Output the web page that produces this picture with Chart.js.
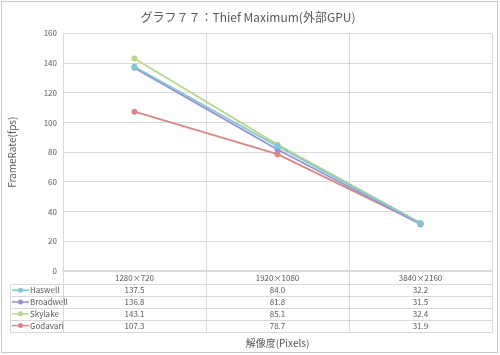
<!DOCTYPE html>
<html>
<head>
<meta charset="utf-8">
<script src="https://cdn.jsdelivr.net/npm/chart.js@4"></script>
<style>
  body { margin: 0; background: #fff; }
  #wrap { width: 500px; height: 355px; }
</style>
</head>
<body>
<div id="wrap"><canvas id="fpsChart"></canvas></div>
<script>
// データ
const resolutions = ['1280×720', '1920×1080', '3840×2160'];
const haswell = [137.5, 84.0, 32.2];
const broadwell = [136.8, 81.8, 31.5];
const skylake = [143.1, 85.1, 32.4];
const godavari = [107.3, 78.7, 31.9];
const seriesNames = ['Haswell', 'Broadwell', 'Skylake', 'Godavari'];
const seriesColors = ['#82c6da', '#9990d2', '#b8d78c', '#df8584'];

const FONT = "'Noto Sans CJK JP', 'Noto Sans', sans-serif";
const textColor = '#595959';
const gridColor = '#d9d9d9';

// データテーブル (Excel風) を描くプラグイン
const dataTable = {
    id: 'dataTable',
    afterDraw(chart) {
        const ctx = chart.ctx;
        const area = chart.chartArea;
        const x = chart.scales.x;
        const rowH = 11.8;
        const top = area.bottom + 1.5;
        const tableLeft = 10;
        const rows = [haswell, broadwell, skylake, godavari];
        const band = x.getPixelForValue(1) - x.getPixelForValue(0);

        ctx.save();
        ctx.strokeStyle = gridColor;
        ctx.lineWidth = 1;

        // 横線
        for (let r = 1; r <= 5; r++) {
            const y = Math.round(top + rowH * r) + 0.5;
            ctx.beginPath();
            ctx.moveTo(tableLeft, y);
            ctx.lineTo(area.right, y);
            ctx.stroke();
        }
        // 縦線
        const bottom = Math.round(top + rowH * 5) + 0.5;
        const edges = [area.left];
        for (let i = 0; i < resolutions.length; i++) {
            edges.push(x.getPixelForValue(i) + band / 2);
        }
        edges.forEach(e => {
            const ex = Math.round(e) + 0.5;
            ctx.beginPath();
            ctx.moveTo(ex, area.bottom);
            ctx.lineTo(ex, bottom);
            ctx.stroke();
        });
        ctx.beginPath();
        ctx.moveTo(tableLeft + 0.5, Math.round(top + rowH) + 0.5);
        ctx.lineTo(tableLeft + 0.5, bottom);
        ctx.stroke();

        // 文字
        ctx.fillStyle = textColor;
        ctx.font = '8px ' + FONT;
        ctx.textAlign = 'center';
        ctx.textBaseline = 'middle';
        resolutions.forEach((lab, i) => {
            ctx.fillText(lab, x.getPixelForValue(i), top + rowH * 0.5);
        });
        rows.forEach((vals, r) => {
            const cy = top + rowH * (r + 1.5);
            vals.forEach((v, i) => {
                ctx.fillStyle = textColor;
                ctx.textAlign = 'center';
                ctx.fillText(v.toFixed(1), x.getPixelForValue(i), cy);
            });
            // 凡例キー
            ctx.strokeStyle = seriesColors[r];
            ctx.lineWidth = 1.5;
            ctx.beginPath();
            ctx.moveTo(12, cy);
            ctx.lineTo(29, cy);
            ctx.stroke();
            ctx.fillStyle = seriesColors[r];
            ctx.beginPath();
            ctx.arc(20.5, cy, 2.5, 0, Math.PI * 2);
            ctx.fill();
            ctx.fillStyle = textColor;
            ctx.textAlign = 'left';
            ctx.fillText(seriesNames[r], 30, cy);
        });

        // 外枠
        ctx.strokeStyle = '#c8c8c8';
        ctx.lineWidth = 1;
        ctx.strokeRect(1.5, 1.5, chart.width - 4, chart.height - 4);
        ctx.restore();
    }
};

const ctxFps = document.getElementById('fpsChart').getContext('2d');
const fpsChart = new Chart(ctxFps, {
    type: 'line',
    data: {
        labels: resolutions,
        datasets: [haswell, broadwell, skylake, godavari].map((d, i) => ({
            label: seriesNames[i],
            data: d,
            borderColor: seriesColors[i],
            backgroundColor: seriesColors[i],
            borderWidth: 1.8,
            pointRadius: 3,
            pointBorderWidth: 0,
            tension: 0
        }))
    },
    options: {
        responsive: true,
        maintainAspectRatio: false,
        animation: false,
        layout: { padding: { left: 4, right: 8, top: 0, bottom: 4 } },
        plugins: {
            legend: { display: false },
            tooltip: { enabled: false },
            title: {
                display: true,
                text: 'グラフ７７：Thief Maximum(外部GPU)',
                color: textColor,
                font: { family: FONT, size: 12, weight: 'normal' },
                padding: { top: 10, bottom: 9 }
            }
        },
        scales: {
            x: {
                offset: true,
                grid: { offset: true, color: gridColor, drawTicks: false },
                border: { color: gridColor, width: 2 },
                ticks: { display: false },
                title: {
                    display: true,
                    text: '解像度(Pixels)',
                    color: textColor,
                    align: 'center',
                    font: { family: FONT, size: 10 },
                    padding: { top: 0, bottom: 2 }
                },
                afterFit(scale) { scale.height = 80; }
            },
            y: {
                min: 0,
                max: 160,
                ticks: {
                    stepSize: 20,
                    color: textColor,
                    font: { family: FONT, size: 8 },
                    padding: 6
                },
                grid: { color: gridColor, drawTicks: false },
                border: { display: false },
                title: {
                    display: true,
                    text: 'FrameRate(fps)',
                    color: textColor,
                    font: { family: FONT, size: 10 },
                    padding: { top: 2, bottom: 0 }
                },
                afterFit(scale) { scale.width = 59; }
            }
        }
    },
    plugins: [dataTable]
});
</script>
</body>
</html>
